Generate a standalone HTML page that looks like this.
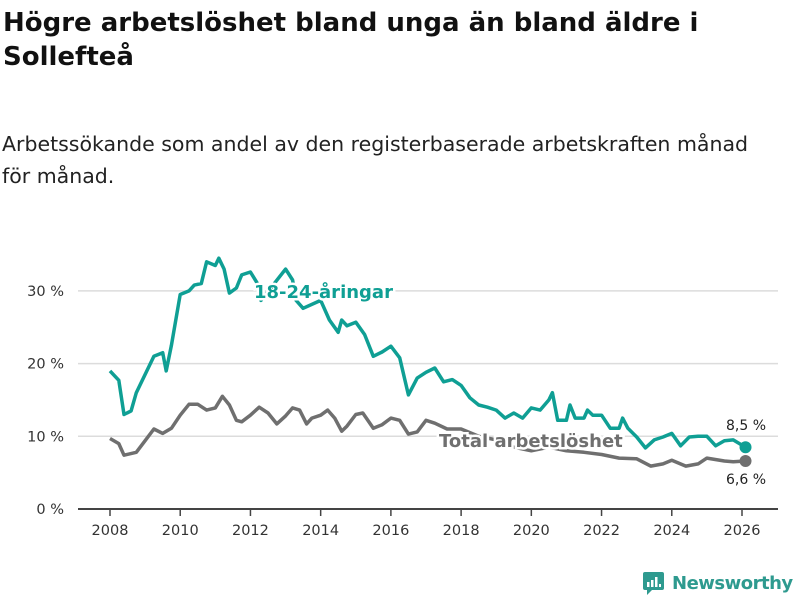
<!DOCTYPE html>
<html><head><meta charset="utf-8"><style>
body{margin:0;width:800px;height:600px;background:#fff;font-family:"DejaVu Sans","Liberation Sans",sans-serif;overflow:hidden}
h1{position:absolute;left:3px;top:6px;margin:0;font-size:26px;line-height:34px;font-weight:bold;color:#111;width:795px}
p{position:absolute;left:2px;top:128px;margin:0;font-size:20.5px;line-height:32px;color:#222;width:765px}
svg{position:absolute;left:0;top:0}
</style></head><body>
<h1>Högre arbetslöshet bland unga än bland äldre i Sollefteå</h1>
<p>Arbetssökande som andel av den registerbaserade arbetskraften månad för månad.</p>
<svg id="chart" width="800" height="600"></svg>
<script>
const youthDates=[2008,2008.25,2008.4,2008.6,2008.75,2009,2009.25,2009.5,2009.6,2009.75,2010,2010.25,2010.4,2010.6,2010.75,2011,2011.1,2011.25,2011.4,2011.6,2011.75,2012,2012.2,2012.3,2013,2013.2,2013.3,2013.5,2014,2014.25,2014.5,2014.6,2014.75,2015,2015.25,2015.5,2015.75,2016,2016.25,2016.5,2016.75,2017,2017.25,2017.5,2017.75,2018,2018.25,2018.5,2018.75,2019,2019.25,2019.5,2019.75,2020,2020.25,2020.5,2020.6,2020.75,2021,2021.1,2021.25,2021.5,2021.6,2021.75,2022,2022.25,2022.5,2022.6,2022.75,2023,2023.25,2023.5,2023.75,2024,2024.25,2024.5,2024.75,2025,2025.25,2025.5,2025.75,2026.1];
const youthValues=[19,17.7,13,13.5,16,18.5,21,21.5,19,22.5,29.5,30,30.8,31,34,33.5,34.5,33,29.7,30.4,32.2,32.6,31,28.7,33,31.5,28.7,27.6,28.7,26,24.3,26,25.2,25.7,24,21,21.6,22.4,20.8,15.7,18,18.8,19.4,17.5,17.8,17,15.3,14.3,14,13.6,12.5,13.2,12.5,13.9,13.6,15,16,12.2,12.2,14.3,12.5,12.5,13.6,12.9,12.9,11.1,11.1,12.5,11.1,9.9,8.4,9.5,9.9,10.4,8.7,9.9,10,10,8.7,9.4,9.5,8.5];
const totalDates=[2008,2008.25,2008.4,2008.75,2009,2009.25,2009.5,2009.75,2010,2010.25,2010.5,2010.75,2011,2011.2,2011.4,2011.6,2011.75,2012,2012.25,2012.5,2012.75,2013,2013.2,2013.4,2013.6,2013.75,2014,2014.2,2014.4,2014.6,2014.75,2015,2015.2,2015.5,2015.75,2016,2016.25,2016.5,2016.75,2017,2017.25,2017.6,2018,2018.5,2019,2019.5,2020,2020.5,2021,2021.5,2022,2022.5,2023,2023.4,2023.75,2024,2024.4,2024.75,2025,2025.5,2025.75,2026.1];
const totalValues=[9.7,9,7.4,7.8,9.4,11,10.4,11.1,12.9,14.4,14.4,13.6,13.9,15.5,14.3,12.2,12,12.9,14,13.2,11.7,12.8,13.9,13.6,11.7,12.5,12.9,13.6,12.5,10.7,11.4,13,13.2,11.1,11.6,12.5,12.2,10.3,10.6,12.2,11.8,11,11,10,9.5,8.5,8,8.5,8,7.8,7.5,7,6.9,5.9,6.2,6.7,5.9,6.2,7,6.6,6.5,6.6];
const yTicks=[0,10,20,30];
const xTicks=[2008,2010,2012,2014,2016,2018,2020,2022,2024,2026];
const NS='http://www.w3.org/2000/svg';
const svg=document.getElementById('chart');
const x=v=>110+(v-2008)*(632/18);
const y=v=>509-v*7.27;
function mk(t,a){const e=document.createElementNS(NS,t);for(const k in a)e.setAttribute(k,a[k]);svg.appendChild(e);return e;}
yTicks.forEach(t=>{
 const l=mk('line',{x1:78,x2:778,y1:y(t),y2:y(t),stroke:t?'#dcdcdc':'#444','stroke-width':t?1.5:2});
 
 
 const tx=mk('text',{x:64,y:y(t)+5,'text-anchor':'end','font-size':14.5,fill:'#333'});tx.textContent=t+' %';
 
 
});
xTicks.forEach(t=>{
 const l=mk('line',{x1:x(t),x2:x(t),y1:509,y2:516,stroke:'#444','stroke-width':1.5});
 
 
 const tx=mk('text',{x:x(t),y:535,'text-anchor':'middle','font-size':14.5,fill:'#333'});tx.textContent=t;
 
 
});
function line(d,v,c,name){
 const p=mk('path',{d:d.map((t,i)=>(i?'L':'M')+x(t).toFixed(1)+','+y(v[i]).toFixed(1)).join(''),fill:'none',stroke:c,'stroke-width':3.5,'stroke-linejoin':'round'});
 
 
 const n=d.length-1;
 const dot=mk('circle',{cx:x(d[n]),cy:y(v[n]),r:6,fill:c});
 
 
}
line(totalDates,totalValues,'#6f6f6f','total-line');
line(youthDates,youthValues,'#0f9f94','youth-line');
function label(txt,xx,yy,c,size,name,anchor){
 const t=mk('text',{x:xx,y:yy,'font-size':size,'font-weight':'bold',fill:c,stroke:'#fff','stroke-width':5,'paint-order':'stroke','text-anchor':anchor||'start'});t.textContent=txt;
 
 
}
label('18-24-åringar',254,298,'#0f9f94',18,'youth-series-label');
label('Total arbetslöshet',439,447,'#6f6f6f',18,'total-series-label');
const v1=mk('text',{x:746,y:430,'font-size':14,fill:'#222','text-anchor':'middle'});v1.textContent='8,5 %';


const v2=mk('text',{x:746,y:484,'font-size':14,fill:'#222','text-anchor':'middle'});v2.textContent='6,6 %';


</script>
<div style="position:absolute;left:643px;top:571px;display:flex;align-items:center">
 <svg width="22" height="24" style="position:static"><rect x="0" y="1" width="21" height="18" rx="2" fill="#2e9a8f"/><path d="M4 19 L4 24 L9 19Z" fill="#2e9a8f"/><rect x="4" y="11" width="2.5" height="5" fill="#fff"/><rect x="8" y="9" width="2.5" height="7" fill="#fff"/><rect x="12" y="6" width="2.5" height="10" fill="#fff"/><rect x="16" y="13" width="2" height="3" fill="#fff"/></svg>
 <span style="margin-left:7px;font-size:18px;color:#2e9a8f;font-weight:bold;letter-spacing:-0.5px">Newsworthy</span>
</div>
</body></html>
